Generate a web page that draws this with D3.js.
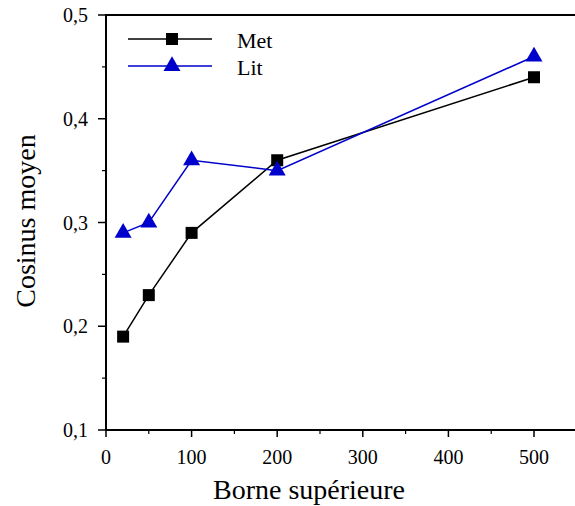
<!DOCTYPE html>
<html><head><meta charset="utf-8">
<script src="https://cdn.jsdelivr.net/npm/d3@7"></script>
<style>body{margin:0;background:#fff}svg{display:block}</style>
</head><body>
<svg id="c" width="575" height="506"></svg>
<script>
const xValues = [20, 50, 100, 200, 500];
const metValues = [0.19, 0.23, 0.29, 0.36, 0.44];
const litValues = [0.29, 0.30, 0.36, 0.35, 0.46];
const seriesNames = ["Met", "Lit"];
const xTicks = [0, 100, 200, 300, 400, 500];
const yTicks = [0.1, 0.2, 0.3, 0.4, 0.5];

const svg = d3.select("#c");
const font = "'Liberation Serif','Times New Roman',serif";
const x0 = 106, x1 = 534, y0 = 430, y1 = 15;
const x = d3.scaleLinear().domain([0, 500]).range([x0, x1]);
const y = d3.scaleLinear().domain([0.1, 0.5]).range([y0, y1]);

// frame top line
svg.append("line").attr("x1", x0).attr("x2", 575).attr("y1", y1).attr("y2", y1)
  .attr("stroke", "#000").attr("stroke-width", 2);

// x axis
const xAx = svg.append("g").attr("transform", `translate(0,${y0})`);
xAx.append("line").attr("x1", x0).attr("x2", 575).attr("stroke", "#000").attr("stroke-width", 2);
const xMinor = d3.range(50, 551, 100);
xAx.selectAll(".xm").data(xMinor).join("line").attr("x1", d => x(d)).attr("x2", d => x(d))
  .attr("y1", 0).attr("y2", 4).attr("stroke", "#000").attr("stroke-width", 1.2);
xAx.selectAll(".xM").data(xTicks).join("line").attr("x1", d => x(d)).attr("x2", d => x(d))
  .attr("y1", 0).attr("y2", 7).attr("stroke", "#000").attr("stroke-width", 1.5);
xAx.selectAll("text").data(xTicks).join("text").attr("x", d => x(d)).attr("y", 34)
  .attr("text-anchor", "middle").attr("font-family", font).attr("font-size", 20)
  .text(d => d);

// y axis
const yAx = svg.append("g").attr("transform", `translate(${x0},0)`);
yAx.append("line").attr("y1", y0 + 1).attr("y2", y1 - 1).attr("stroke", "#000").attr("stroke-width", 2);
const yMinor = d3.range(0.15, 0.5, 0.1);
yAx.selectAll(".ym").data(yMinor).join("line").attr("y1", d => y(d)).attr("y2", d => y(d))
  .attr("x1", 0).attr("x2", -4).attr("stroke", "#000").attr("stroke-width", 1.2);
yAx.selectAll(".yM").data(yTicks).join("line").attr("y1", d => y(d)).attr("y2", d => y(d))
  .attr("x1", 0).attr("x2", -8).attr("stroke", "#000").attr("stroke-width", 1.5);
yAx.selectAll("text").data(yTicks).join("text").attr("x", -18).attr("y", d => y(d) + 7)
  .attr("text-anchor", "end").attr("font-family", font).attr("font-size", 20)
  .text(d => d3.format(".1f")(d).replace(".", ","));

// axis titles
svg.append("text").attr("x", 309).attr("y", 499).attr("text-anchor", "middle")
  .attr("font-family", font).attr("font-size", 28).text("Borne supérieure");
svg.append("text").attr("transform", "translate(35,221) rotate(-90)").attr("text-anchor", "middle")
  .attr("font-family", font).attr("font-size", 28).text("Cosinus moyen");

const line = d3.line().x(d => x(d[0])).y(d => y(d[1]));
const met = xValues.map((v, i) => [v, metValues[i]]);
const lit = xValues.map((v, i) => [v, litValues[i]]);
const sq = d3.symbol().type(d3.symbolSquare).size(144);
const tri = d3.symbol().type(d3.symbolTriangle).size(125);

svg.append("path").datum(met).attr("d", line).attr("fill", "none").attr("stroke", "#000").attr("stroke-width", 1.5);
svg.append("path").datum(lit).attr("d", line).attr("fill", "none").attr("stroke", "#0000cc").attr("stroke-width", 1.5);
svg.selectAll(".pm").data(met).join("path").attr("d", sq)
  .attr("transform", d => `translate(${x(d[0])},${y(d[1])})`).attr("fill", "#000");
svg.selectAll(".pl").data(lit).join("path").attr("d", tri)
  .attr("transform", d => `translate(${x(d[0])},${y(d[1])})`).attr("fill", "#0000cc");

// legend
const lg = svg.append("g");
const legendItems = [
  {name: seriesNames[0], color: "#000", sym: sq, yy: 39},
  {name: seriesNames[1], color: "#0000cc", sym: tri, yy: 66}
];
legendItems.forEach(it => {
  lg.append("line").attr("x1", 128).attr("x2", 212).attr("y1", it.yy).attr("y2", it.yy)
    .attr("stroke", it.color).attr("stroke-width", 1.5);
  lg.append("path").attr("d", it.sym).attr("transform", `translate(172,${it.yy})`).attr("fill", it.color);
  lg.append("text").attr("x", 237).attr("y", it.yy + 9).attr("font-family", font).attr("font-size", 22).text(it.name);
});
</script>
</body></html>
